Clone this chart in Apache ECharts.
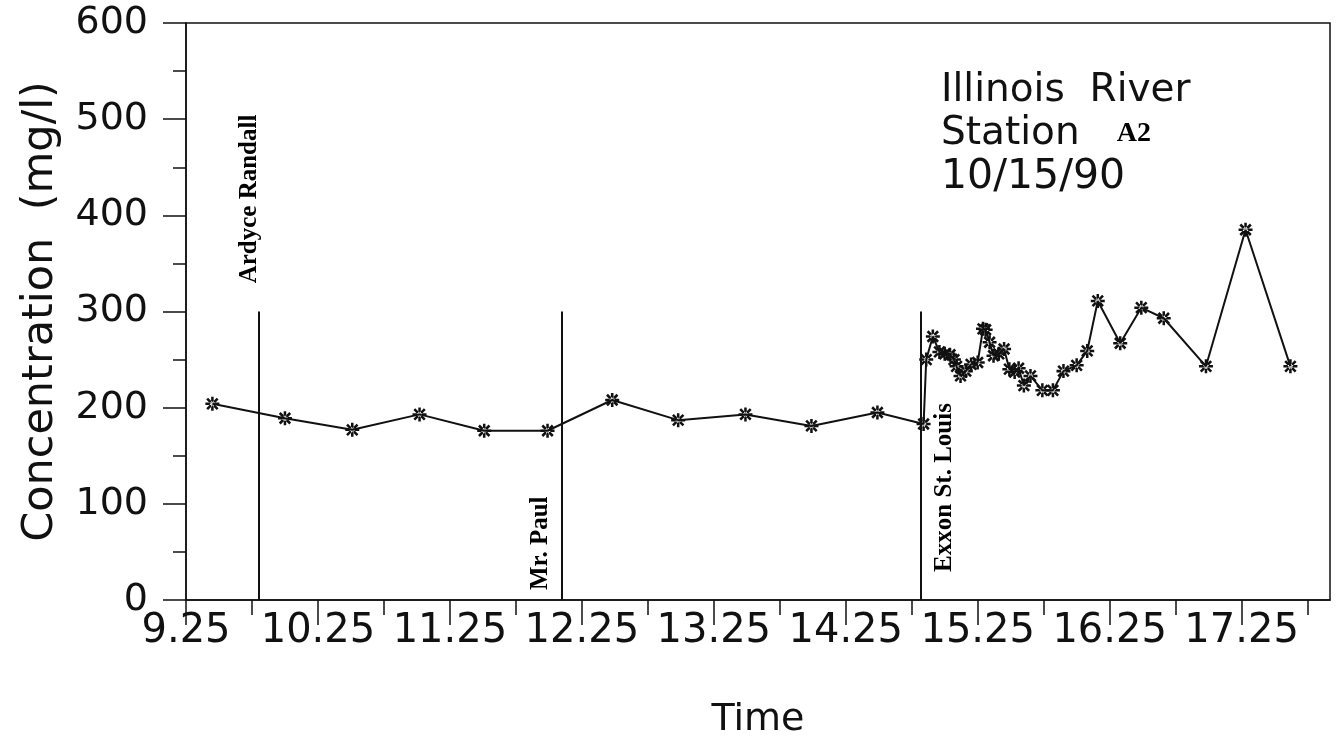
<!DOCTYPE html>
<html>
<head>
<meta charset="utf-8">
<script src="https://cdn.jsdelivr.net/npm/echarts@6/dist/echarts.min.js"></script>
<style>
  html, body { margin: 0; padding: 0; background: #fff; }
  #main { width: 1340px; height: 744px; }
</style>
</head>
<body>
<div id="main"></div>
<script>
// sample times and concentrations
const times = [9.45, 10.0, 10.51, 11.02, 11.51, 11.99, 12.48, 12.98, 13.49, 13.99, 14.49, 14.84,
    14.86, 14.91, 14.96, 15.0, 15.04, 15.07, 15.09, 15.12, 15.16, 15.2, 15.25, 15.29, 15.31,
    15.34, 15.37, 15.41, 15.45, 15.49, 15.53, 15.56, 15.6, 15.65, 15.74, 15.82, 15.9, 16.0,
    16.08, 16.16, 16.33, 16.49, 16.66, 16.98, 17.28, 17.62];
const conc = [204, 189, 177, 193, 176, 176, 208, 187, 193, 181, 195, 183,
    250, 274, 258, 256, 255, 250, 243, 233, 238, 245, 247, 282, 281,
    268, 254, 256, 261, 240, 237, 241, 223, 233, 218, 218, 238, 244,
    259, 311, 267, 304, 293, 243, 385, 243];

// barge passages (vertical markers)
const eventTimes = [9.80, 12.10, 14.82];
const eventNames = ['Ardyce Randall', 'Mr. Paul', 'Exxon St. Louis'];
const eventTop = 300;
const eventLabelX = [9.735, 11.94, 15.0];
const eventLabelY = [417, 59, 117];

// axis ticks
const majorTicks = [9.25, 10.25, 11.25, 12.25, 13.25, 14.25, 15.25, 16.25, 17.25];
const minorTicks = [9.75, 10.75, 11.75, 12.75, 13.75, 14.75, 15.75, 16.75, 17.75];

const chart = echarts.init(document.getElementById('main'));

// asterisk marker
const starPath = 'path://M-1,-0.18L1,-0.18L1,0.18L-1,0.18Z' +
    'M-0.18,-1L0.18,-1L0.18,1L-0.18,1Z' +
    'M-0.88,-0.62L0.62,0.88L0.88,0.62L-0.62,-0.88Z' +
    'M-0.62,0.88L0.88,-0.62L0.62,-0.88L-0.88,0.62Z';

const font = 'DejaVu Sans';
const ink = '#111';

const option = {
    animation: false,
    title: {
        left: 936,
        top: 64,
        text: '{a|Illinois  River}\n{a|Station   }{b|A2}\n{c|10/15/90}',
        textStyle: {
            rich: {
                a: { fontFamily: font, fontWeight: 'normal', fontSize: 39, color: ink, lineHeight: 43 },
                b: { fontFamily: 'Liberation Serif', fontWeight: 'bold', fontSize: 28, color: '#000', lineHeight: 43 },
                c: { fontFamily: font, fontWeight: 'normal', fontSize: 41, color: ink, lineHeight: 45 }
            }
        }
    },
    grid: {
        left: 186, right: 10, top: 23, bottom: 143,
        show: true, borderColor: ink, borderWidth: 1.5
    },
    xAxis: [
        {
            type: 'value', min: 9.25, max: 17.92,
            name: 'Time', nameLocation: 'middle', nameGap: 101,
            nameTextStyle: { fontFamily: font, fontSize: 38, color: ink },
            axisLine: { lineStyle: { color: ink, width: 1.5 } },
            axisTick: { customValues: majorTicks, length: 25, lineStyle: { color: ink, width: 1.5 } },
            axisLabel: {
                customValues: majorTicks, margin: 12,
                fontFamily: font, fontSize: 40, color: ink,
                formatter: v => v.toFixed(2)
            },
            splitLine: { show: false }
        },
        {
            type: 'value', min: 9.25, max: 17.92, position: 'bottom',
            axisLine: { show: false },
            axisTick: { customValues: minorTicks, length: 15, lineStyle: { color: ink, width: 1.5 } },
            axisLabel: { show: false },
            splitLine: { show: false }
        }
    ],
    yAxis: {
        type: 'value', min: 0, max: 600, interval: 100,
        name: 'Concentration  (mg/l)', nameLocation: 'middle', nameGap: 124,
        nameTextStyle: { fontFamily: font, fontSize: 43, color: ink },
        axisLine: { show: true, lineStyle: { color: ink, width: 1.5 } },
        axisTick: { show: true, length: 23, lineStyle: { color: ink, width: 1.5 } },
        minorTick: { show: true, splitNumber: 2, length: 13, lineStyle: { color: ink, width: 1.5 } },
        axisLabel: { margin: 38, fontFamily: font, fontSize: 38, color: ink },
        splitLine: { show: false }
    },
    series: [
        {
            type: 'line',
            data: times.map((t, i) => [t, conc[i]]),
            symbol: starPath,
            symbolSize: 14,
            lineStyle: { color: ink, width: 2 },
            itemStyle: { color: ink },
            markLine: {
                symbol: 'none',
                silent: true,
                label: { show: false },
                lineStyle: { color: ink, width: 2, type: 'solid' },
                data: eventTimes.map(t => [{ coord: [t, 0] }, { coord: [t, eventTop] }])
            }
        },
        {
            type: 'scatter',
            symbolSize: 1,
            itemStyle: { color: 'transparent' },
            silent: true,
            data: eventLabelX.map((x, i) => ({ value: [x, eventLabelY[i]], name: eventNames[i] })),
            label: {
                show: true, position: 'inside', rotate: 90,
                formatter: p => p.name,
                fontFamily: 'Liberation Serif', fontWeight: 'bold', fontSize: 25,
                color: '#000', textBorderWidth: 0, opacity: 1
            }
        }
    ]
};

chart.setOption(option);
</script>
</body>
</html>
